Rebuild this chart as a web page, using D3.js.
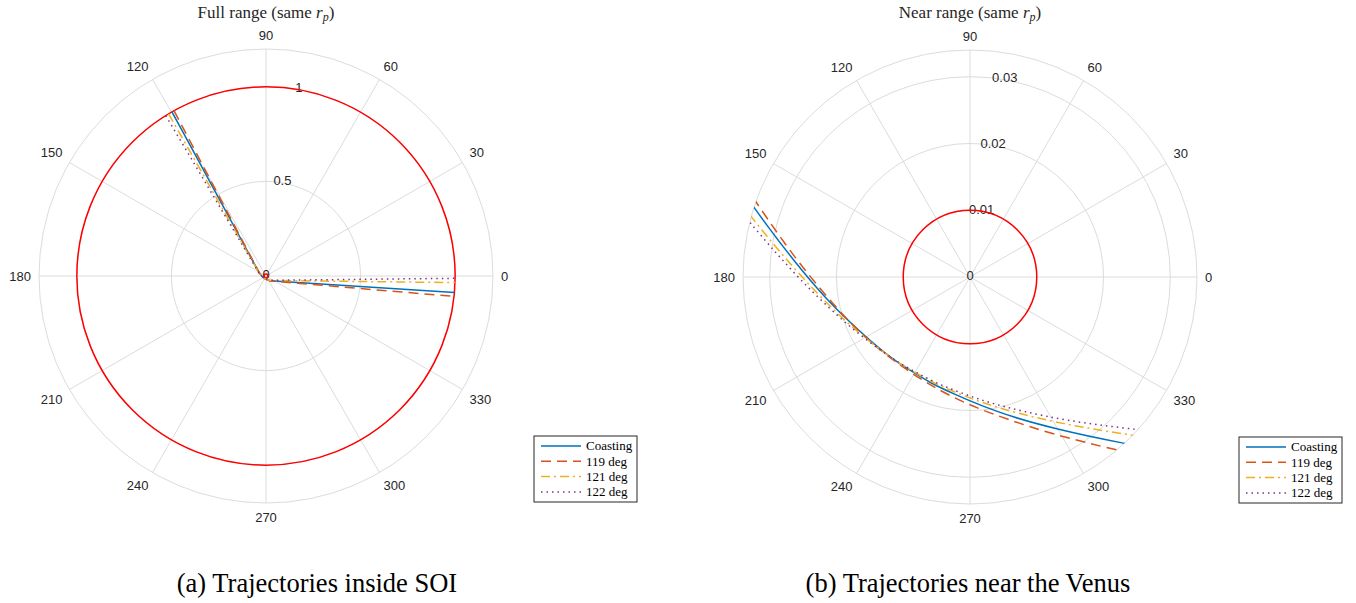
<!DOCTYPE html>
<html>
<head>
<meta charset="utf-8">
<script src="https://cdn.jsdelivr.net/npm/d3@7"></script>
<style>
  body { margin: 0; background: #fff; }
  svg { display: block; }
</style>
</head>
<body>
<svg id="chart" width="1356" height="603"></svg>
<script>
// angular grid (deg) and radial ticks for each panel
const angleTicks = [0, 30, 60, 90, 120, 150, 180, 210, 240, 270, 300, 330];
const fullTicks = [0, 0.5, 1];
const fullMax = 1.2;
const nearTicks = [0, 0.01, 0.02, 0.03];
const nearMax = 0.034;

// red reference circles: SOI boundary and Venus surface
const soiRadius = 1;
const venusRadius = 0.01;

const seriesNames = ["Coasting", "119 deg", "121 deg", "122 deg"];

// full range: theta in deg, r in SOI units
const coastFarTheta = [119.8, 162.5, 237.5, 312.5, 355.0];
const coastFarR = [1, 0.0337, 0.0166, 0.0337, 1];
const d119FarTheta = [119.1, 160.5, 235.5, 310.5, 353.8];
const d119FarR = [1, 0.0341, 0.0168, 0.0341, 1];
const d121FarTheta = [121.0, 165.2, 240.2, 315.2, 358.0];
const d121FarR = [1, 0.0335, 0.0165, 0.0335, 1];
const d122FarTheta = [122.0, 166.9, 241.9, 316.9, 359.3];
const d122FarR = [1, 0.0333, 0.0164, 0.0333, 1];

// near range
const coastNearTheta = [152.5, 162.5, 175, 187.5, 200, 212.5, 225, 237.5, 250, 262.5, 275, 287.5, 300, 312.5, 322.5];
const coastNearR = [0.0442, 0.0337, 0.0263, 0.0220, 0.0193, 0.0177, 0.0169, 0.0166, 0.0169, 0.0177, 0.0193, 0.0220, 0.0263, 0.0337, 0.0442];
const d119NearTheta = [150.5, 160.5, 173, 185.5, 198, 210.5, 223, 235.5, 248, 260.5, 273, 285.5, 298, 310.5, 320.5];
const d119NearR = [0.0447, 0.0341, 0.0266, 0.0222, 0.0196, 0.0180, 0.0171, 0.0168, 0.0171, 0.0180, 0.0196, 0.0222, 0.0266, 0.0341, 0.0447];
const d121NearTheta = [155.2, 165.2, 177.7, 190.2, 202.7, 215.2, 227.7, 240.2, 252.7, 265.2, 277.7, 290.2, 302.7, 315.2, 325.2];
const d121NearR = [0.0439, 0.0335, 0.0261, 0.0218, 0.0192, 0.0176, 0.0168, 0.0165, 0.0168, 0.0176, 0.0192, 0.0218, 0.0261, 0.0335, 0.0439];
const d122NearTheta = [156.9, 166.9, 179.4, 191.9, 204.4, 216.9, 229.4, 241.9, 254.4, 266.9, 279.4, 291.9, 304.4, 316.9, 326.9];
const d122NearR = [0.0437, 0.0333, 0.0260, 0.0217, 0.0191, 0.0175, 0.0167, 0.0164, 0.0167, 0.0175, 0.0191, 0.0217, 0.0260, 0.0333, 0.0437];

const colors = ["#0072BD", "#D95319", "#EDB120", "#7E2F8E"];
const dashes = [null, "10,6", "9,4,2,4", "1.5,4"];

const zip = (th, r) => th.map((t, i) => ({ theta: t, r: r[i] }));
const farSeries = [
    zip(coastFarTheta, coastFarR), zip(d119FarTheta, d119FarR),
    zip(d121FarTheta, d121FarR), zip(d122FarTheta, d122FarR)
];
const nearSeries = [
    zip(coastNearTheta, coastNearR), zip(d119NearTheta, d119NearR),
    zip(d121NearTheta, d121NearR), zip(d122NearTheta, d122NearR)
];

const R = 227;
const LABEL_R = 235;
const svg = d3.select("#chart");
const toRad = d => (90 - d) * Math.PI / 180; // d3 angle: clockwise from north
const rad = d => d * Math.PI / 180;

function drawPanel(id, cx, cy, rMax, rTicks, data, curve, title, legendX, legendY) {
    const rScale = d3.scaleLinear().domain([0, rMax]).range([0, R]);
    const g = svg.append("g").attr("transform", `translate(${cx},${cy})`);

    g.append("clipPath").attr("id", id)
        .append("circle").attr("r", R);

    // spokes
    g.selectAll(".spoke").data(angleTicks).join("line")
        .attr("x1", 0).attr("y1", 0)
        .attr("x2", d => R * Math.cos(rad(d)))
        .attr("y2", d => -R * Math.sin(rad(d)))
        .attr("stroke", "#dcdcdc").attr("stroke-width", 1);

    // rings
    g.selectAll(".ring").data(rTicks.filter(d => d > 0).concat([rMax])).join("circle")
        .attr("r", d => rScale(d))
        .attr("fill", "none")
        .attr("stroke", "#dcdcdc").attr("stroke-width", 1);

    // angle labels: anchored at LABEL_R, aligned away from the centre
    g.selectAll(".alab").data(angleTicks).join("text")
        .attr("x", d => LABEL_R * Math.cos(rad(d)))
        .attr("y", d => {
            const s = Math.sin(rad(d));
            const off = s > 0.01 ? -6 : (s < -0.01 ? 6 : 0);
            return -LABEL_R * s + off;
        })
        .attr("text-anchor", d => {
            const c = Math.cos(rad(d));
            return c > 0.01 ? "start" : (c < -0.01 ? "end" : "middle");
        })
        .attr("dy", "0.35em")
        .attr("font-family", "Liberation Sans, Arial, sans-serif")
        .attr("font-size", 13)
        .attr("fill", "#262626")
        .text(d => d);

    // radial labels along 80 deg
    g.selectAll(".rlab").data(rTicks).join("text")
        .attr("x", d => rScale(d) * Math.cos(rad(80)))
        .attr("y", d => -rScale(d) * Math.sin(rad(80)) - 2)
        .attr("text-anchor", "middle")
        .attr("dy", "0.35em")
        .attr("font-family", "Liberation Sans, Arial, sans-serif")
        .attr("font-size", 13)
        .attr("fill", "#262626")
        .text(d => d);

    const plot = g.append("g").attr("clip-path", `url(#${id})`);

    plot.selectAll(".ref").data([soiRadius, venusRadius]).join("circle")
        .attr("r", d => rScale(d))
        .attr("fill", "none")
        .attr("stroke", "#ff0000").attr("stroke-width", 1.5);

    const line = d3.lineRadial()
        .angle(d => toRad(d.theta))
        .radius(d => rScale(d.r))
        .curve(curve);

    plot.selectAll(".traj").data(data).join("path")
        .attr("d", line)
        .attr("fill", "none")
        .attr("stroke", (d, i) => colors[i])
        .attr("stroke-width", 1.5)
        .attr("stroke-dasharray", (d, i) => dashes[i]);

    // title
    const t = svg.append("text")
        .attr("x", cx).attr("y", 18)
        .attr("text-anchor", "middle")
        .attr("font-family", "Liberation Serif, Times New Roman, serif")
        .attr("font-size", 17)
        .attr("fill", "#262626");
    t.append("tspan").text(title + " (same ");
    t.append("tspan").attr("font-style", "italic").text("r");
    t.append("tspan").attr("font-style", "italic").attr("font-size", 12).attr("dy", 3).text("p");
    t.append("tspan").attr("dy", -3).text(")");

    // legend
    const lg = svg.append("g").attr("transform", `translate(${legendX},${legendY})`);
    lg.append("rect")
        .attr("width", 103).attr("height", 66)
        .attr("fill", "#fff")
        .attr("stroke", "#262626").attr("stroke-width", 1);
    const rows = lg.selectAll(".row").data(seriesNames).join("g")
        .attr("transform", (d, i) => `translate(0,${10 + i * 15.3})`);
    rows.append("line")
        .attr("x1", 7).attr("x2", 47)
        .attr("stroke", (d, i) => colors[i])
        .attr("stroke-width", 1.5)
        .attr("stroke-dasharray", (d, i) => dashes[i]);
    rows.append("text")
        .attr("x", 52).attr("y", 0)
        .attr("dy", "0.33em")
        .attr("font-family", "Liberation Serif, Times New Roman, serif")
        .attr("font-size", 13)
        .attr("fill", "#000")
        .text(d => d);
}

drawPanel("clipFull", 266, 276, fullMax, fullTicks, farSeries, d3.curveLinear,
    "Full range", 534, 436);
drawPanel("clipNear", 970, 277, nearMax, nearTicks, nearSeries, d3.curveCatmullRom.alpha(0.5),
    "Near range", 1239, 437);

// sub-captions
svg.selectAll(".caption")
    .data([{ x: 317, t: "(a) Trajectories inside SOI" }, { x: 968, t: "(b) Trajectories near the Venus" }])
    .join("text")
    .attr("x", d => d.x).attr("y", 592)
    .attr("text-anchor", "middle")
    .attr("font-family", "Liberation Serif, Times New Roman, serif")
    .attr("font-size", 26.5)
    .attr("fill", "#000")
    .text(d => d.t);
</script>
</body>
</html>
